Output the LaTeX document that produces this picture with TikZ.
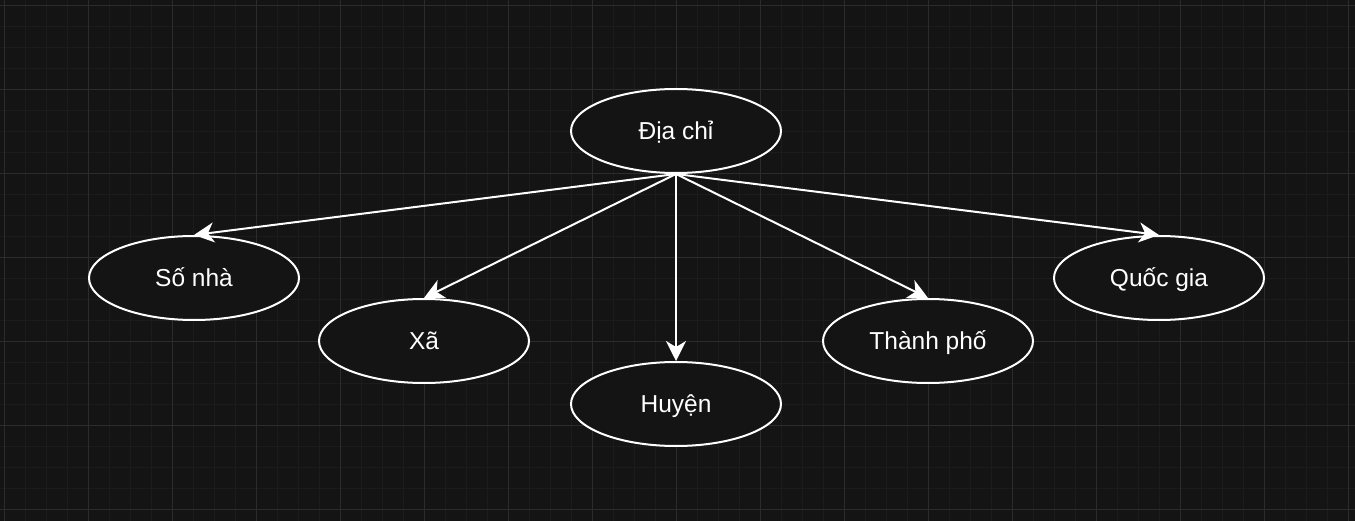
\documentclass[tikz,border=0pt]{standalone}
\usepackage{fontspec}
\setmainfont{Liberation Sans}
\usetikzlibrary{shapes.geometric,arrows.meta}
\definecolor{bgdark}{HTML}{141414}
\definecolor{gridminor}{HTML}{1C1C1C}
\definecolor{gridmajor}{HTML}{2C2C2C}
\tikzset{
  field/.style={ellipse,draw=white,line width=2pt,fill=bgdark,
    minimum width=210pt,minimum height=84pt,inner sep=0pt,
    text height=17.5pt,text depth=0pt,
    text=white,font=\fontsize{24.5}{28}\selectfont},
  link/.style={draw=white,line width=2pt,-{Stealth[length=20pt,width=20pt,inset=6pt]}}
}
\begin{document}
\begin{tikzpicture}[x=1pt,y=-1pt]
  %% background
  \fill[bgdark] (0,0) rectangle (1355,521);
  \useasboundingbox (0,0) rectangle (1355,521);
  %% grid
  \foreach \x in {0,...,64} \draw[gridminor,line width=1pt] (4.3+21*\x,0) -- ++(0,521);
  \foreach \y in {0,...,24} \draw[gridminor,line width=1pt] (0,5.3+21*\y) -- ++(1355,0);
  \foreach \x in {0,...,16} \draw[gridmajor,line width=1pt] (4.3+84*\x,0) -- ++(0,521);
  \foreach \y in {0,...,6} \draw[gridmajor,line width=1pt] (0,5.3+84*\y) -- ++(1355,0);
  %% nodes
  \node[field] (diachi) at (676,131) {Địa chỉ};
  \node[field] (sonha) at (194,278) {Số nhà};
  \node[field] (xa) at (424,341) {Xã};
  \node[field] (huyen) at (676,404) {Huyện};
  \node[field] (thanhpho) at (928,341) {Thành phố};
  \node[field] (quocgia) at (1159,278) {Quốc gia};
  %% links
  \foreach \n in {sonha,xa,huyen,thanhpho,quocgia} \draw[link] (diachi.south) -- (\n.north);
\end{tikzpicture}
\end{document}
